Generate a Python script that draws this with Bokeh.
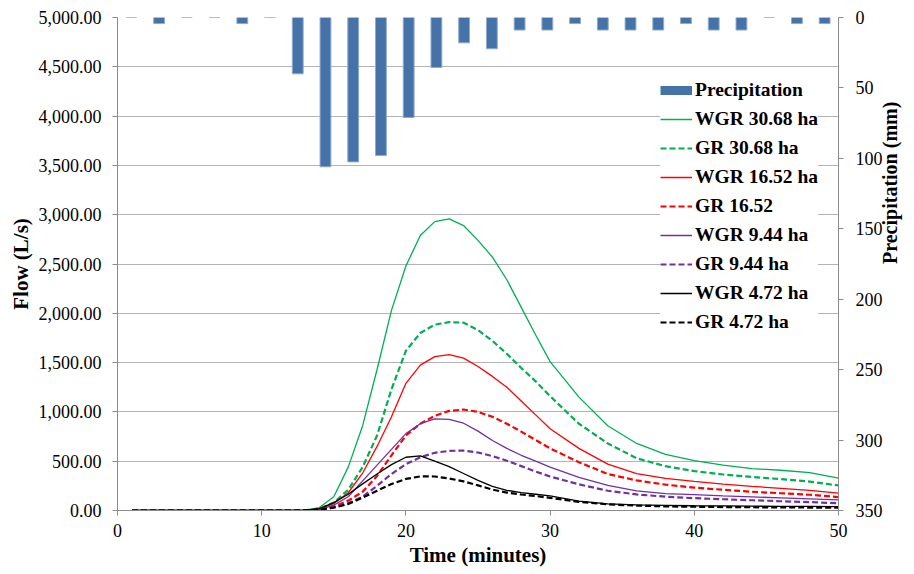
import math
from bokeh.plotting import figure
from bokeh.models import (Range1d, LinearAxis, SingleIntervalTicker,
                          NumeralTickFormatter, Legend, LegendItem)
from bokeh.embed import file_html
from bokeh.resources import INLINE

# ---- data ----
time_min = [1, 12, 13, 14, 15, 16, 17, 18, 19, 20, 21, 22, 23, 24, 25, 26, 27, 28, 29, 30,
            32, 34, 36, 38, 40, 42, 44, 46, 48, 50]

wgr_30_68 = [0, 0, 3, 30, 140, 440, 860, 1430, 2030, 2480, 2790, 2930, 2958, 2890, 2740, 2570,
             2340, 2060, 1780, 1510, 1150, 860, 680, 570, 505, 460, 425, 408, 385, 328]
gr_30_68 = [0, 0, 2, 20, 80, 210, 440, 760, 1230, 1620, 1800, 1885, 1910, 1905, 1830, 1720,
            1590, 1445, 1310, 1160, 880, 680, 530, 450, 400, 365, 340, 318, 293, 254]
wgr_16_52 = [0, 0, 2, 15, 70, 180, 380, 650, 950, 1290, 1475, 1560, 1580, 1545, 1460, 1360,
             1250, 1110, 970, 830, 630, 470, 375, 325, 295, 268, 245, 225, 205, 176]
gr_16_52 = [0, 0, 1, 8, 40, 100, 190, 350, 560, 760, 880, 960, 1010, 1024, 1000, 950,
            880, 800, 715, 630, 490, 370, 305, 262, 232, 210, 190, 175, 160, 135]
wgr_9_44 = [0, 0, 2, 10, 55, 140, 300, 460, 620, 780, 880, 930, 925, 885, 805, 710,
            630, 560, 500, 440, 335, 255, 200, 172, 160, 148, 138, 128, 118, 108]
gr_9_44 = [0, 0, 1, 5, 30, 75, 140, 250, 370, 470, 540, 585, 605, 607, 588, 552,
           505, 450, 395, 345, 265, 200, 163, 140, 125, 114, 104, 94, 85, 74]
wgr_4_72 = [0, 0, 3, 20, 80, 165, 270, 370, 465, 540, 553, 500, 445, 375, 305, 245,
            205, 182, 165, 148, 95, 68, 57, 52, 48, 46, 44, 42, 41, 40]
gr_4_72 = [0, 0, 1, 8, 30, 65, 130, 200, 268, 320, 346, 345, 325, 295, 255, 212,
           182, 162, 147, 128, 88, 62, 50, 42, 38, 35, 33, 31, 30, 28]

# precipitation recorded in 26 equal intervals (secondary category axis)
precip_interval = list(range(1, 27))
precip_mm = [0, 4.3, 0, 0, 4.3, 0, 40, 106, 102.5, 98, 71, 35.5, 18, 22.2, 8.9, 8.9,
             4.3, 8.9, 8.9, 8.9, 4.3, 8.9, 8.9, 0, 4.3, 4.3]

series = [
    ("WGR 30.68 ha", wgr_30_68, "#00B050", "solid"),
    ("GR 30.68 ha", gr_30_68, "#00B050", "dashed"),
    ("WGR 16.52 ha", wgr_16_52, "#FF0000", "solid"),
    ("GR 16.52", gr_16_52, "#FF0000", "dashed"),
    ("WGR 9.44 ha", wgr_9_44, "#7030A0", "solid"),
    ("GR 9.44 ha", gr_9_44, "#7030A0", "dashed"),
    ("WGR 4.72 ha", wgr_4_72, "#000000", "solid"),
    ("GR 4.72 ha", gr_4_72, "#000000", "dashed"),
]

FONT = "Liberation Serif"
BAR_COLOR = "#4572A7"

p = figure(width=914, height=572, output_backend="svg", toolbar_location=None,
           x_range=Range1d(0, 50), y_range=Range1d(0, 5000),
           min_border_left=117, min_border_right=76, min_border_top=17, min_border_bottom=62)
p.outline_line_color = None
p.background_fill_color = "white"
p.border_fill_color = "white"
p.extra_y_ranges = {"precip": Range1d(350, 0)}
p.extra_x_ranges = {"interval": Range1d(0.5, 26.5)}

p.xgrid.visible = False
p.ygrid.grid_line_color = "#B3B3B3"
p.ygrid.grid_line_width = 1

bars = p.vbar(x=precip_interval, top=precip_mm, bottom=0, width=0.39,
              x_range_name="interval", y_range_name="precip",
              fill_color=BAR_COLOR, line_color="#8FA9CF", line_width=1)

# legend proxy for precipitation (flat bar swatch), no visible data
precip_proxy = p.line(x=[float("nan")], y=[float("nan")], line_color=BAR_COLOR,
                      line_width=9, line_cap="butt")

items = [LegendItem(label="Precipitation", renderers=[precip_proxy])]
for label, vals, color, dash in series:
    if dash == "solid":
        r = p.line(time_min, vals, line_color=color, line_width=1.3)
    else:
        r = p.line(time_min, vals, line_color=color, line_width=2.2, line_dash="6 3")
    items.append(LegendItem(label=label, renderers=[r]))

# axes
ax_r = LinearAxis(y_range_name="precip", ticker=SingleIntervalTicker(interval=50),
                  axis_label="Precipitation (mm)")
p.add_layout(ax_r, "right")

p.xaxis.ticker = SingleIntervalTicker(interval=10, num_minor_ticks=0)
p.xaxis.axis_label = "Time (minutes)"
p.yaxis[0].ticker = SingleIntervalTicker(interval=500, num_minor_ticks=0)
p.yaxis[0].formatter = NumeralTickFormatter(format="0,0.00")
p.yaxis[0].axis_label = "Flow (L/s)"

for ax in [p.xaxis[0], p.yaxis[0], ax_r]:
    ax.axis_line_color = "#8C8C8C"
    ax.major_tick_line_color = "#8C8C8C"
    ax.minor_tick_line_color = None
    ax.major_tick_out = 5
    ax.major_tick_in = 0
    ax.major_label_text_font = FONT
    ax.major_label_text_font_style = "normal"
    ax.major_label_text_font_size = "18px"
    ax.major_label_text_color = "black"
    ax.axis_label_text_font = FONT
    ax.axis_label_text_font_style = "bold"
    ax.axis_label_text_font_size = "21px"
    ax.axis_label_text_color = "black"

p.xaxis[0].major_label_standoff = 8
p.xaxis[0].axis_label_standoff = 3
p.yaxis[0].major_label_standoff = 11
p.yaxis[0].axis_label_standoff = 3
ax_r.major_label_standoff = 12
ax_r.axis_label_standoff = 4
ax_r.axis_label_text_font_size = "20px"
ax_r.axis_label_orientation = math.pi / 2

legend = Legend(items=items, location=(543, 177), orientation="vertical",
                label_text_font=FONT, label_text_font_style="bold",
                label_text_font_size="19.5px", label_text_color="black",
                glyph_width=32, glyph_height=20, label_height=20, label_standoff=3,
                spacing=7, padding=6, margin=0,
                background_fill_color="white", background_fill_alpha=1.0,
                border_line_color=None)
p.add_layout(legend)

open("out.html", "w").write(file_html(p, INLINE))
